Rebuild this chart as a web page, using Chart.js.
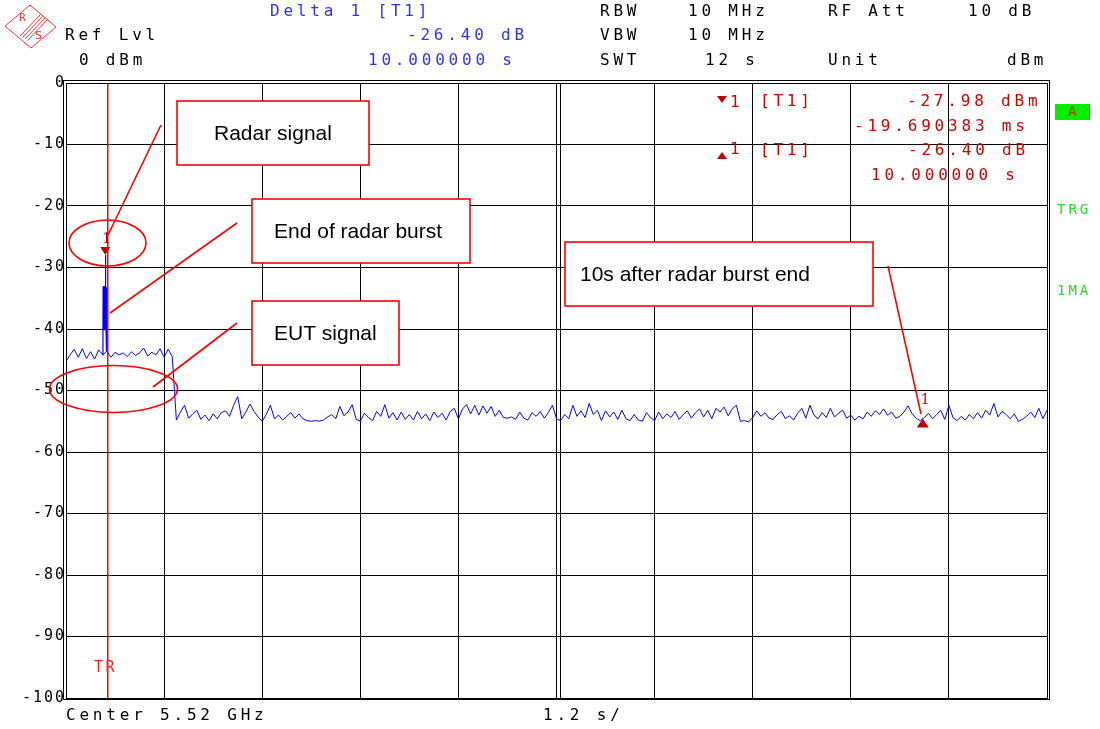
<!DOCTYPE html>
<html><head><meta charset="utf-8">
<script src="https://cdn.jsdelivr.net/npm/chart.js@4/dist/chart.umd.min.js"></script>
<style>html,body{margin:0;padding:0;background:#fff;}#wrap{width:1100px;height:729px;position:relative;}</style>
</head><body><div id="wrap"><canvas id="c"></canvas></div>
<script>
// ---- data ----
const sweepStart = -0.5;   // s (trigger at 0)
const sweepStep = 0.05;    // s between trace points
const traceLevels = [
-45.3,-44.2,-43.3,-44.6,-43.2,-44.8,-43.7,-44.9,-43.4,-44.2,
-43.6,-44.6,-43.8,-44.2,-43.9,-44.5,-43.7,-44.3,-43.9,-43.1,
-44.4,-43.8,-44.2,-43.2,-44.6,-43.3,-44.5,-54.8,-53.5,-52.4,
-54.5,-53.8,-53.2,-54.7,-54.0,-54.9,-53.8,-54.6,-53.6,-53.3,
-54.2,-52.4,-51.0,-54.6,-53.5,-52.2,-53.4,-54.3,-55.0,-53.9,
-52.4,-54.6,-54.0,-54.8,-54.2,-53.6,-54.5,-53.8,-54.6,-54.9,
-55.0,-54.9,-55.0,-54.8,-54.3,-53.9,-54.6,-52.6,-54.1,-53.5,
-52.3,-54.7,-55.0,-53.7,-54.4,-54.9,-53.4,-54.2,-52.3,-54.5,
-53.6,-54.8,-53.5,-54.7,-53.9,-54.8,-53.4,-54.6,-53.8,-54.9,
-53.5,-54.4,-53.7,-54.8,-53.4,-52.9,-54.6,-53.0,-52.3,-53.8,
-52.4,-54.0,-52.5,-53.7,-52.6,-54.2,-53.2,-54.4,-54.5,-54.3,
-54.7,-53.5,-54.5,-54.8,-53.6,-54.2,-53.4,-54.5,-53.6,-52.4,
-54.6,-54.9,-53.9,-54.6,-52.4,-54.2,-53.3,-54.4,-52.1,-53.9,
-53.2,-54.9,-53.3,-54.3,-53.5,-54.7,-53.2,-54.6,-54.9,-53.9,
-54.8,-55.0,-53.6,-54.4,-54.9,-53.5,-54.6,-53.8,-54.4,-53.4,
-54.7,-53.9,-53.3,-54.5,-53.6,-53.0,-54.3,-53.2,-54.6,-52.9,
-53.5,-52.7,-54.1,-53.0,-52.4,-55.0,-54.9,-55.1,-54.4,-53.3,
-54.2,-53.6,-54.5,-54.7,-53.9,-53.4,-54.6,-54.1,-54.8,-53.7,
-52.9,-54.5,-52.4,-54.0,-54.6,-53.6,-54.4,-52.9,-54.3,-53.7,
-53.2,-54.5,-54.0,-54.8,-54.2,-54.6,-53.5,-54.2,-53.3,-53.9,
-53.0,-54.0,-53.5,-54.5,-54.2,-53.5,-52.5,-53.8,-54.5,-54.9,
-54.4,-53.7,-54.6,-53.9,-53.2,-54.7,-52.4,-54.4,-54.9,-54.2,
-54.8,-53.9,-54.6,-53.6,-54.5,-53.2,-54.0,-52.1,-54.3,-53.4,
-53.9,-54.6,-53.8,-55.0,-54.7,-54.2,-53.5,-54.4,-52.9,-54.6,-53.2
];
const burstTimes = [-0.050,-0.048,-0.046,-0.044,-0.042,-0.040,-0.038,-0.036,-0.034,-0.032,-0.030,-0.028,-0.026,-0.024,-0.022,-0.0197,-0.018,-0.016,-0.014,-0.012,-0.010,-0.008,-0.006,-0.004,0.0];
const burstLevels = [-44.2,-40.8,-33.1,-40.2,-33.0,-40.1,-33.2,-40.0,-33.1,-40.2,-33.0,-40.1,-33.2,-40.0,-33.1,-27.98,-40.2,-33.0,-40.1,-33.1,-40.0,-33.2,-40.1,-42.6,-43.6];
const levelTicks = [0,-10,-20,-30,-40,-50,-60,-70,-80,-90,-100];
const timeGrid = [-0.5,0.7,1.9,3.1,4.3,5.5,6.7,7.9,9.1,10.3,11.5];
const triggerTime = 0;
const markerTimes = [-0.019690383, 9.980309617];
const markerLevels = [-27.98, -54.38];

const traceData = traceLevels.map((v,i)=>({x: sweepStart + i*sweepStep, y: v}));
const burstData = burstTimes.map((t,i)=>({x: t, y: burstLevels[i]}));

const MONO = '"DejaVu Sans Mono", monospace';
const HDR = '16px ' + MONO;
function txt(ctx, s, x, y, color, font, ls, align){
  ctx.save();
  ctx.font = font || HDR;
  ctx.letterSpacing = ls || '3.8px';
  ctx.fillStyle = color;
  ctx.textAlign = align || 'left';
  ctx.textBaseline = 'middle';
  ctx.fillText(s, x, y);
  ctx.restore();
}
function tri(ctx, x, tipY, down, w, h, color){
  ctx.save(); ctx.fillStyle = color; ctx.beginPath();
  if (down){ ctx.moveTo(x-w/2, tipY-h); ctx.lineTo(x+w/2, tipY-h); ctx.lineTo(x, tipY); }
  else { ctx.moveTo(x-w/2, tipY+h); ctx.lineTo(x+w/2, tipY+h); ctx.lineTo(x, tipY); }
  ctx.closePath(); ctx.fill(); ctx.restore();
}

const overlay = {
  id: 'overlay',
  beforeDraw(chart){ chart.ctx.letterSpacing = '2px'; },
  beforeDatasetsDraw(chart){
    const {ctx, chartArea:a, scales:{x}} = chart;
    const tx = Math.round(x.getPixelForValue(triggerTime));
    ctx.save(); ctx.fillStyle = '#ff0000';
    ctx.fillRect(tx, a.top, 1.5, a.bottom - a.top); ctx.restore();
    txt(ctx, 'TR', tx - 13, 668, '#ff2020', '15px ' + MONO, '2.5px');
  },
  afterDraw(chart){
    const {ctx, chartArea:a, scales:{x, y}} = chart;
    ctx.save();
    // frame (double line)
    ctx.strokeStyle = '#000'; ctx.lineWidth = 1;
    ctx.strokeRect(a.left + 0.5, a.top + 0.5, a.right - a.left, a.bottom - a.top);
    ctx.strokeRect(a.left - 2.5, a.top - 2.5, a.right - a.left + 5, a.bottom - a.top + 4);
    const cx = Math.round(x.getPixelForValue(timeGrid[5])) + 3.5;
    ctx.beginPath(); ctx.moveTo(cx, a.top); ctx.lineTo(cx, a.bottom); ctx.stroke();
    ctx.restore();

    // markers
    const dark = '#c00000';
    const m1x = x.getPixelForValue(markerTimes[0]), m1y = y.getPixelForValue(markerLevels[0]);
    tri(ctx, m1x, m1y, true, 10, 8, dark);
    txt(ctx, '1', m1x - 3, m1y - 16, dark, '14px "DejaVu Serif"', '0px');
    const m2x = x.getPixelForValue(markerTimes[1]), m2y = y.getPixelForValue(markerLevels[1]);
    tri(ctx, m2x, m2y + 1, false, 12, 9, dark);
    txt(ctx, '1', m2x - 2, m2y - 17, dark, '14px "DejaVu Serif"', '0px');

    // marker table
    const mr = '#d00000';
    tri(ctx, 722, 103, true, 10, 7, dark); txt(ctx, '1', 730, 103, mr);
    txt(ctx, '[T1]', 760, 102, mr);
    txt(ctx, '-27.98 dBm', 907, 102, mr);
    txt(ctx, '-19.690383 ms', 854, 127, mr);
    tri(ctx, 722, 152, false, 10, 7, dark); txt(ctx, '1', 730, 150, mr);
    txt(ctx, '[T1]', 760, 151, mr);
    txt(ctx, '-26.40 dB', 908, 151, mr);
    txt(ctx, '10.000000 s', 871, 176, mr);

    // header
    const blue = '#3030ff';
    txt(ctx, 'Delta 1 [T1]', 270, 12, blue);
    txt(ctx, 'Ref Lvl', 65, 36, '#000');
    txt(ctx, '-26.40 dB', 407, 36, blue);
    txt(ctx, '0 dBm', 79, 61, '#000');
    txt(ctx, '10.000000 s', 368, 61, blue);
    txt(ctx, 'RBW', 600, 12, '#000'); txt(ctx, '10 MHz', 688, 12, '#000');
    txt(ctx, 'RF Att', 828, 12, '#000'); txt(ctx, '10 dB', 968, 12, '#000');
    txt(ctx, 'VBW', 600, 36, '#000'); txt(ctx, '10 MHz', 688, 36, '#000');
    txt(ctx, 'SWT', 600, 61, '#000'); txt(ctx, '12 s', 705, 61, '#000');
    txt(ctx, 'Unit', 828, 61, '#000'); txt(ctx, 'dBm', 1007, 61, '#000');
    txt(ctx, 'Center 5.52 GHz', 66, 716, '#000');
    txt(ctx, '1.2 s/', 543, 716, '#000');

    // logo
    ctx.save(); ctx.strokeStyle = '#ff3030'; ctx.lineWidth = 1;
    ctx.beginPath(); ctx.moveTo(5, 26); ctx.lineTo(30, 5); ctx.lineTo(56, 27); ctx.lineTo(31, 48); ctx.closePath(); ctx.stroke();
    for (let k = 0; k < 4; k++){ ctx.beginPath(); ctx.moveTo(20 + k*2.5, 36 + k*1.5); ctx.lineTo(40 + k*2.5, 15 + k*1.5); ctx.stroke(); }
    ctx.restore();
    txt(ctx, 'R', 19, 18, '#ff3030', '10px "DejaVu Sans"', '0px');
    txt(ctx, 'S', 35, 36, '#ff3030', '11px "DejaVu Sans"', '0px');

    // right status
    ctx.save(); ctx.fillStyle = '#00ee00'; ctx.fillRect(1055, 104, 35, 16); ctx.restore();
    txt(ctx, 'A', 1068, 112, '#d03000', '14px ' + MONO, '0px');
    txt(ctx, 'TRG', 1057, 210, '#22dd22', '14px ' + MONO, '3px');
    txt(ctx, '1MA', 1057, 291, '#22dd22', '14px ' + MONO, '3px');

    // annotations
    ctx.save();
    ctx.strokeStyle = '#ff0000'; ctx.lineWidth = 1.6;
    const boxes = [
      [177,101,192,64,'Radar signal',214],
      [252,199,218,64,'End of radar burst',274],
      [252,301,147,64,'EUT signal',274],
      [565,242,308,64,'10s after radar burst end',580]
    ];
    const lines = [[161,125,108,235],[237,223,110,313],[237,323,153,387],[888,266,921,414]];
    lines.forEach(l=>{ ctx.beginPath(); ctx.moveTo(l[0],l[1]); ctx.lineTo(l[2],l[3]); ctx.stroke(); });
    ctx.beginPath(); ctx.ellipse(107.5,243,38.5,23,0,0,Math.PI*2); ctx.stroke();
    ctx.beginPath(); ctx.ellipse(113.5,389,64,23.5,0,0,Math.PI*2); ctx.stroke();
    boxes.forEach(b=>{
      ctx.fillStyle = '#fff'; ctx.fillRect(b[0],b[1],b[2],b[3]);
      ctx.strokeRect(b[0],b[1],b[2],b[3]);
    });
    ctx.restore();
    boxes.forEach(b=>txt(ctx, b[4], b[5], b[1] + b[3]/2 + 1, '#000', '21px "Liberation Sans", Arial', '0px'));
  }
};

new Chart(document.getElementById('c'), {
  type: 'line',
  data: { datasets: [
    { label: 'Trace 1', data: traceData, borderColor: '#0000ff', borderWidth: 1, pointRadius: 0, tension: 0, fill: false },
    { label: 'Radar burst', data: burstData, borderColor: '#0000ff', borderWidth: 1.2, pointRadius: 0, tension: 0, fill: false }
  ]},
  options: {
    responsive: true, maintainAspectRatio: false, animation: false,
    layout: { padding: { top: 83, right: 53, left: 0, bottom: 0 } },
    plugins: { legend: { display: false }, tooltip: { enabled: false } },
    scales: {
      x: { type: 'linear', min: timeGrid[0], max: timeGrid[timeGrid.length-1],
        afterBuildTicks: s => { s.ticks = timeGrid.map(v => ({ value: v })); },
        ticks: { display: false },
        grid: { color: '#000', lineWidth: 1, drawTicks: false },
        border: { display: false },
        afterFit: s => { s.height = 31; } },
      y: { min: -100, max: 0,
        afterBuildTicks: s => { s.ticks = levelTicks.map(v => ({ value: v })); },
        ticks: { color: '#000', font: { family: 'DejaVu Sans Mono', size: 15 }, padding: 0, callback: v => String(v) },
        grid: { color: '#000', lineWidth: 1, drawTicks: false },
        border: { display: false },
        afterFit: s => { s.width = 66; } }
    }
  },
  plugins: [overlay]
});
</script></body></html>
